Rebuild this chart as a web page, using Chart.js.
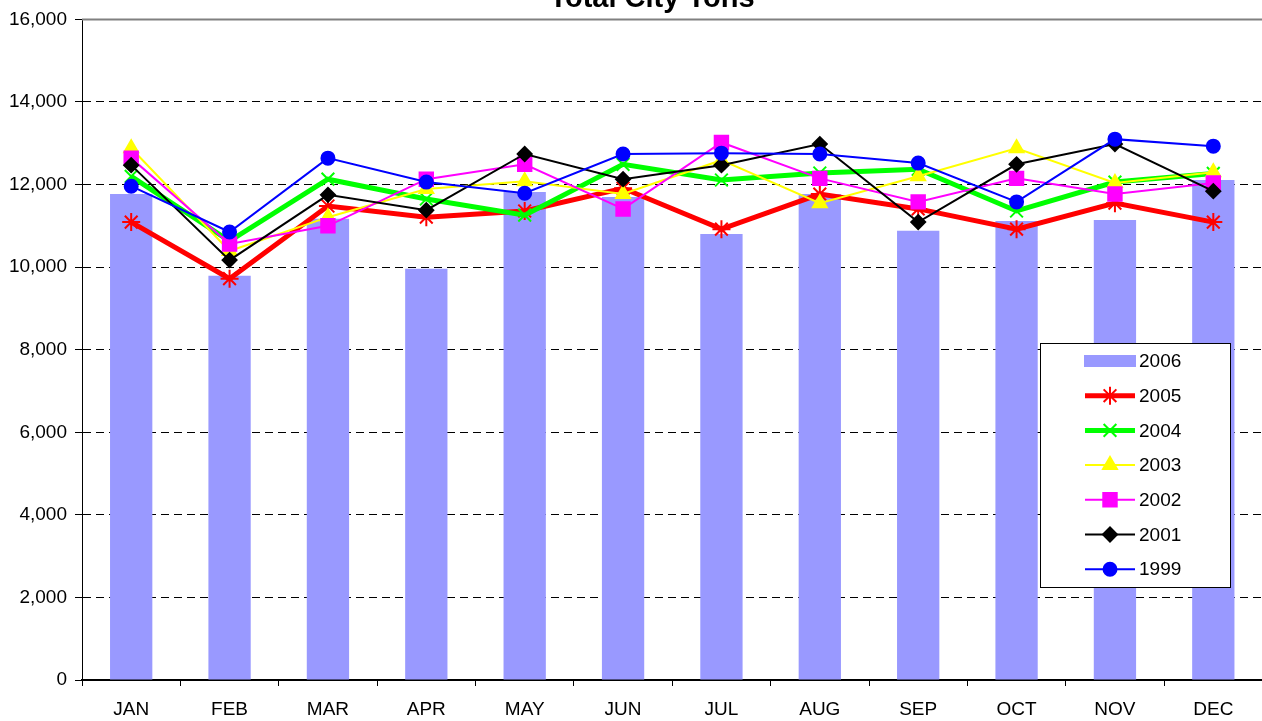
<!DOCTYPE html>
<html>
<head>
<meta charset="utf-8">
<script src="https://cdn.jsdelivr.net/npm/chart.js@4/dist/chart.umd.min.js"></script>
<style>
  html, body { margin: 0; padding: 0; background: #fff; overflow: hidden; }
  #wrap { position: relative; width: 1274px; height: 721px; }
</style>
</head>
<body>
<div id="wrap"><canvas id="tonsChart"></canvas></div>
<script>
// ===== Data =====

const months = ["JAN", "FEB", "MAR", "APR", "MAY", "JUN", "JUL", "AUG", "SEP", "OCT", "NOV", "DEC"];

const tons2006 = [11770, 9790, 11170, 9960, 11820, 11700, 10800, 11770, 10880, 11120, 11140, 12110];
const tons2005 = [11090, 9720, 11480, 11210, 11360, 11910, 10920, 11770, 11410, 10920, 11550, 11090];
const tons2004 = [12200, 10630, 12130, 11650, 11260, 12490, 12110, 12280, 12370, 11360, 12060, 12270];
const tons2003 = [12880, 10390, 11210, 11890, 12080, 11770, 12590, 11550, 12200, 12880, 12040, 12300];
const tons2002 = [12640, 10560, 11000, 12130, 12490, 11410, 13020, 12150, 11580, 12150, 11770, 12040];
const tons2001 = [12470, 10170, 11750, 11380, 12740, 12130, 12470, 12980, 11090, 12490, 12980, 11840];
const tons1999 = [11960, 10850, 12640, 12060, 11790, 12740, 12760, 12740, 12520, 11580, 13100, 12930];

const yTicks = [0, 2000, 4000, 6000, 8000, 10000, 12000, 14000, 16000];

const FONT = "'Liberation Sans', Arial, sans-serif";

// ===== Line series =====

function lineSet(label, data, color, width, style, radius, order) {
  return {
    type: "line",
    label: label,
    data: data,
    borderColor: color,
    backgroundColor: color,
    borderWidth: width,
    tension: 0,
    pointStyle: style,
    pointRadius: radius,
    pointBorderWidth: 2,
    pointBorderColor: color,
    pointBackgroundColor: color,
    order: order
  };
}

// ===== Legend + title drawn on canvas =====

const boxLegend = {
  id: "boxLegend",
  afterDraw(chart) {
    const ctx = chart.ctx;
    const area = chart.chartArea;

    // top frame line
    ctx.save();
    ctx.strokeStyle = "#808080";
    ctx.lineWidth = 2;
    ctx.beginPath();
    ctx.moveTo(area.left, area.top);
    ctx.lineTo(area.right, area.top);
    ctx.stroke();

    // title (mostly cut off at the top edge)
    ctx.fillStyle = "#000";
    ctx.font = "bold 29px " + FONT;
    ctx.textAlign = "center";
    ctx.textBaseline = "alphabetic";
    ctx.fillText("Total City Tons", 652, 7);

    // legend box
    const bx = 1040, by = 343, bw = 190, bh = 244;
    ctx.fillStyle = "#fff";
    ctx.fillRect(bx, by, bw, bh);
    ctx.strokeStyle = "#000";
    ctx.lineWidth = 1;
    ctx.strokeRect(bx + 0.5, by + 0.5, bw, bh);

    ctx.font = "19px " + FONT;
    ctx.textAlign = "left";
    ctx.textBaseline = "middle";
    chart.data.datasets.forEach((ds, i) => {
      const y = 361 + i * 34.7;
      if (ds.type === "bar") {
        ctx.fillStyle = ds.backgroundColor;
        ctx.fillRect(1084, y - 6, 52, 12);
      } else {
        ctx.strokeStyle = ds.borderColor;
        ctx.lineWidth = ds.borderWidth;
        ctx.beginPath();
        ctx.moveTo(1085, y);
        ctx.lineTo(1135, y);
        ctx.stroke();
        ctx.fillStyle = ds.pointBackgroundColor;
        ctx.strokeStyle = ds.pointBorderColor;
        ctx.lineWidth = ds.pointBorderWidth;
        Chart.helpers.drawPoint(ctx, { pointStyle: ds.pointStyle, radius: ds.pointRadius, rotation: 0, borderWidth: 2 }, 1110, y);
      }
      ctx.fillStyle = "#000";
      ctx.fillText(ds.label, 1139, y + 1);
    });
    ctx.restore();
  }
};

// ===== Chart =====

const ctx = document.getElementById("tonsChart").getContext("2d");
new Chart(ctx, {
  data: {
    labels: months,
    datasets: [
      {
        type: "bar",
        label: "2006",
        data: tons2006,
        backgroundColor: "#9999FF",
        borderWidth: 0,
        barPercentage: 0.43,
        categoryPercentage: 1.0,
        order: 10
      },
      lineSet("2005", tons2005, "#FF0000", 5, "star", 9, 6),
      lineSet("2004", tons2004, "#00FF00", 5, "crossRot", 9, 5),
      lineSet("2003", tons2003, "#FFFF00", 2, "triangle", 8, 4),
      lineSet("2002", tons2002, "#FF00FF", 2, "rect", 9.5, 3),
      lineSet("2001", tons2001, "#000000", 2, "rectRot", 7, 2),
      lineSet("1999", tons1999, "#0000FF", 2, "circle", 6.5, 1)
    ]
  },
  options: {
    responsive: true,
    maintainAspectRatio: false,
    animation: false,
    layout: { padding: { top: 17, right: 0, left: 0, bottom: 0 } },
    plugins: {
      legend: { display: false },
      title: { display: false },
      tooltip: { enabled: false }
    },
    scales: {
      x: {
        offset: true,
        grid: {
          offset: true,
          drawOnChartArea: false,
          drawTicks: true,
          tickLength: 6,
          tickColor: "#000",
          color: "#000"
        },
        border: { display: true, color: "#000", width: 2 },
        ticks: { color: "#000", font: { family: FONT, size: 19 }, padding: 12, maxRotation: 0 },
        afterFit(scale) { scale.height = 41; }
      },
      y: {
        min: 0,
        max: 16000,
        afterBuildTicks(scale) { scale.ticks = yTicks.map(v => ({ value: v })); },
        grid: {
          color: (c) => (c.tick && c.tick.value > 0 && c.tick.value < 16000) ? "#000" : "rgba(0,0,0,0)",
          lineWidth: 1,
          drawTicks: true,
          tickLength: 7,
          tickColor: "#000"
        },
        border: { display: true, color: "#000", width: 1, dash: [8, 5] },
        ticks: {
          color: "#000",
          font: { family: FONT, size: 19 },
          padding: 8,
          callback: (v) => v.toLocaleString("en-US")
        },
        afterFit(scale) { scale.width = 82; }
      }
    }
  },
  plugins: [boxLegend]
});
</script>
</body>
</html>
